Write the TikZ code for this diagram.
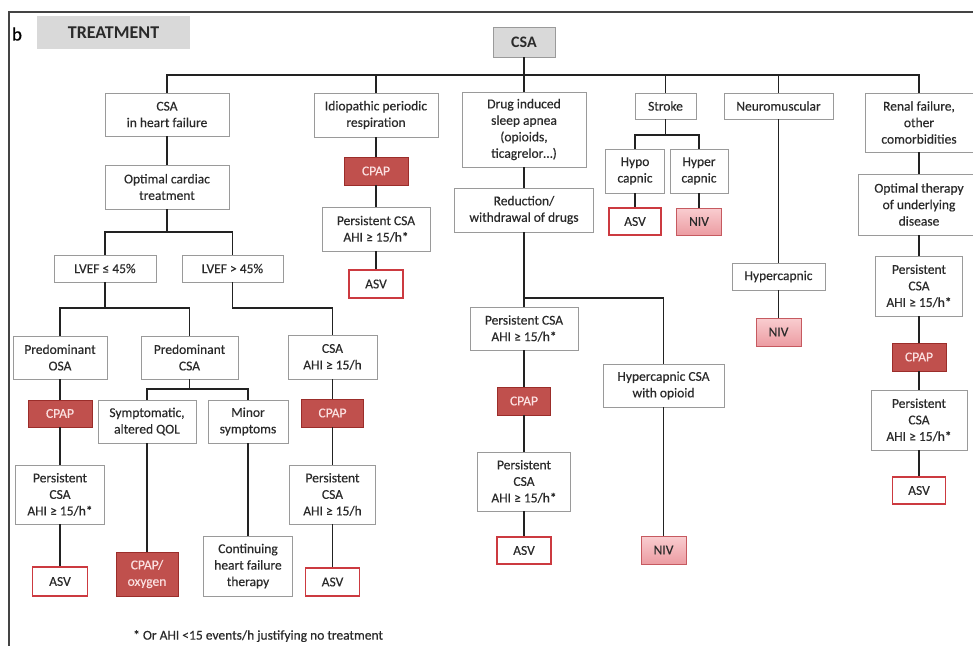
\documentclass[tikz,border=0pt]{standalone}
\usepackage{fontspec}
\setmainfont{Carlito}[UprightFeatures={FakeBold=0.35}]
\definecolor{txt}{HTML}{2A2A2A}
\definecolor{boxline}{HTML}{9A9A9A}
\definecolor{cpapfill}{HTML}{C0504D}
\definecolor{cpapline}{HTML}{9B2D2A}
\definecolor{cpaptext}{HTML}{FBE0E0}
\definecolor{asvline}{HTML}{CC3A40}
\definecolor{niva}{HTML}{F9CDD0}
\definecolor{nivb}{HTML}{EC9CA2}
\definecolor{nivline}{HTML}{C65A60}
\definecolor{greyfill}{HTML}{D9D9D9}
\definecolor{conncol}{HTML}{222222}
\definecolor{framecol}{HTML}{444444}
\begin{document}
\begin{tikzpicture}[x=1pt,y=-1pt,
  box/.style={draw=boxline, line width=0.9pt, fill=white, text=txt, align=center,
    inner sep=0pt, font=\fontsize{13.5}{16.5}\selectfont},
  sz/.style 2 args={minimum width=#1pt, minimum height=#2pt},
  cpapbox/.style={box, draw=cpapline, fill=cpapfill, text=cpaptext},
  asvbox/.style={box, draw=asvline, line width=1.8pt},
  nivbox/.style={box, draw=nivline, top color=niva, bottom color=nivb},
  conn/.style={draw=conncol, line width=1.8pt},
  frameline/.style={draw=framecol, line width=1.2pt}]
\clip (0,0) rectangle (973,646);
\fill[white] (0,0) rectangle (973,646);
% frame
\coordinate (fa) at (973,12);
\coordinate (fb) at (9,12);
\coordinate (fc) at (9,646);
\draw[frameline] (fa) -- (fb) -- (fc);
% header
\node[text=black, font=\fontsize{19}{22}\selectfont, inner sep=0pt] (blabel) at (17,34) {b};
\node[fill=greyfill, sz={153}{33}, inner sep=0pt, text=txt, font=\fontsize{18}{21}\selectfont\bfseries] (treat) at (113.5,32.5) {TREATMENT};
% top
\node[box, fill=greyfill, sz={62}{30}, font=\fontsize{16}{19}\selectfont\bfseries] (csa) at (524,42) {CSA};
\node[box, sz={124}{43}] (hf) at (167,114.5) {CSA\\in heart failure};
\node[box, sz={124}{44}] (idio) at (376,115) {Idiopathic periodic\\respiration};
\node[box, sz={124}{75}] (drug) at (524,129.5) {Drug induced\\sleep apnea\\(opioids,\\ticagrelor…)};
\node[box, sz={61}{26}] (stroke) at (665.5,106) {Stroke};
\node[box, sz={109}{26}] (neuro) at (778.5,106) {Neuromuscular};
\node[box, sz={108}{59}] (renal) at (919,122.5) {Renal failure,\\other\\comorbidities};
% heart failure branch
\node[box, sz={124}{44}] (oct) at (167,187) {Optimal cardiac\\treatment};
\node[box, sz={102}{27}] (lv1) at (105,268.5) {LVEF ≤ 45\%};
\node[box, sz={101}{27}] (lv2) at (232.5,268.5) {LVEF > 45\%};
\node[box, sz={94}{43}] (posa) at (60,357.5) {Predominant\\OSA};
\node[box, sz={97}{43}] (pcsa) at (189.5,357.5) {Predominant\\CSA};
\node[box, sz={89}{44}] (csa45) at (332.5,357) {CSA\\AHI ≥ 15/h};
\node[cpapbox, sz={64}{27}] (cpap3) at (60,413.5) {CPAP};
\node[box, sz={98}{43}] (symp) at (147,421.5) {Symptomatic,\\altered QOL};
\node[box, sz={80}{43}] (minor) at (248,421.5) {Minor\\symptoms};
\node[cpapbox, sz={62}{28}] (cpap4) at (332.5,413) {CPAP};
\node[box, sz={89}{59}] (pers4) at (60,494.5) {Persistent\\CSA\\AHI ≥ 15/h*};
\node[box, sz={86}{59}] (pers5) at (332.5,494.5) {Persistent\\CSA\\AHI ≥ 15/h};
\node[asvbox, sz={55}{29}] (asv4) at (60,581.5) {ASV};
\node[cpapbox, sz={62}{44}] (cpox) at (147,574) {CPAP/\\oxygen};
\node[box, sz={89}{60}] (chf) at (248,566) {Continuing\\heart failure\\therapy};
\node[asvbox, sz={54}{28}] (asv5) at (332.5,582) {ASV};
% idiopathic branch
\node[cpapbox, sz={64}{28}] (cpap1) at (376,171) {CPAP};
\node[box, sz={108}{44}] (pers1) at (376,229) {Persistent CSA\\AHI ≥ 15/h*};
\node[asvbox, sz={54}{28}] (asv1) at (376,284) {ASV};
% drug branch
\node[box, sz={139}{44}] (red) at (524,210) {Reduction/\\withdrawal of drugs};
\node[box, sz={108}{43}] (dpers1) at (524,328.5) {Persistent CSA\\AHI ≥ 15/h*};
\node[cpapbox, sz={53}{28}] (dcpap) at (524,401) {CPAP};
\node[box, sz={93}{59}] (dpers2) at (524,481.5) {Persistent\\CSA\\AHI ≥ 15/h*};
\node[asvbox, sz={54}{27}] (dasv) at (524,550.5) {ASV};
\node[box, sz={121}{43}] (hcsa) at (663.5,385.5) {Hypercapnic CSA\\with opioid};
\node[nivbox, sz={45}{28}] (niv3) at (663.5,550) {NIV};
% stroke branch
\node[box, sz={59}{44}] (hypo) at (635,171) {Hypo\\capnic};
\node[box, sz={58}{44}] (hyper) at (699,171) {Hyper\\capnic};
\node[asvbox, sz={52}{27}] (asv2) at (635,221.5) {ASV};
\node[nivbox, sz={45}{27}] (niv1) at (699,221.5) {NIV};
% neuromuscular branch
\node[box, sz={93}{27}] (hcap) at (778.5,276.5) {Hypercapnic};
\node[nivbox, sz={45}{28}] (niv2) at (778.5,332) {NIV};
% renal branch
\node[box, sz={121}{61}] (otud) at (919,204.5) {Optimal therapy\\of underlying\\disease};
\node[box, sz={87}{60}] (pers2) at (919,286) {Persistent\\CSA\\AHI ≥ 15/h*};
\node[cpapbox, sz={54}{28}] (cpap2) at (919,357) {CPAP};
\node[box, sz={96}{60}] (pers3) at (919,420) {Persistent\\CSA\\AHI ≥ 15/h*};
\node[asvbox, sz={53}{27}] (asv3) at (919,490.5) {ASV};
% footnote
\node[anchor=west, text=txt, inner sep=0pt, font=\fontsize{13.5}{16}\selectfont] (foot) at (133,636) {* Or AHI <15 events/h justifying no treatment};
% bus coordinates
\coordinate (b0) at (0,75);
\coordinate (b1) at (0,232);
\coordinate (b2) at (0,308);
\coordinate (b3) at (0,389);
\coordinate (b4) at (0,298);
\coordinate (b5) at (0,135);
% connectors
\draw[conn] (csa.south) -- (csa.south |- b0);
\foreach \n in {hf,idio,drug,stroke,neuro,renal}
  \draw[conn] (csa.south |- b0) -| (\n.north);
\draw[conn] (hf.south) -- (oct.north);
\draw[conn] (oct.south) -- (oct.south |- b1);
\foreach \n in {lv1,lv2}
  \draw[conn] (oct.south |- b1) -| (\n.north);
\draw[conn] (lv1.south) -- (lv1.south |- b2);
\foreach \n in {posa,pcsa}
  \draw[conn] (lv1.south |- b2) -| (\n.north);
\draw[conn] (lv2.south) |- (csa45.north |- b2) -- (csa45.north);
\draw[conn] (pcsa.south) -- (pcsa.south |- b3);
\foreach \n in {symp,minor}
  \draw[conn] (pcsa.south |- b3) -| (\n.north);
\draw[conn] (posa.south) -- (cpap3.north);
\draw[conn] (cpap3.south) -- (pers4.north);
\draw[conn] (pers4.south) -- (asv4.north);
\draw[conn] (symp.south) -- (cpox.north);
\draw[conn] (minor.south) -- (chf.north);
\draw[conn] (csa45.south) -- (cpap4.north);
\draw[conn] (cpap4.south) -- (pers5.north);
\draw[conn] (pers5.south) -- (asv5.north);
\draw[conn] (idio.south) -- (cpap1.north);
\draw[conn] (cpap1.south) -- (pers1.north);
\draw[conn] (pers1.south) -- (asv1.north);
\draw[conn] (drug.south) -- (red.north);
\draw[conn] (red.south) -- (dpers1.north);
\draw[conn] (red.south |- b4) -| (hcsa.north);
\draw[conn] (dpers1.south) -- (dcpap.north);
\draw[conn] (dcpap.south) -- (dpers2.north);
\draw[conn] (dpers2.south) -- (dasv.north);
\draw[conn] (hcsa.south) -- (niv3.north);
\draw[conn] (stroke.south) -- (stroke.south |- b5);
\foreach \n in {hypo,hyper}
  \draw[conn] (stroke.south |- b5) -| (\n.north);
\draw[conn] (hypo.south) -- (asv2.north);
\draw[conn] (hyper.south) -- (niv1.north);
\draw[conn] (neuro.south) -- (hcap.north);
\draw[conn] (hcap.south) -- (niv2.north);
\draw[conn] (renal.south) -- (otud.north);
\draw[conn] (otud.south) -- (pers2.north);
\draw[conn] (pers2.south) -- (cpap2.north);
\draw[conn] (cpap2.south) -- (pers3.north);
\draw[conn] (pers3.south) -- (asv3.north);
\end{tikzpicture}
\end{document}
